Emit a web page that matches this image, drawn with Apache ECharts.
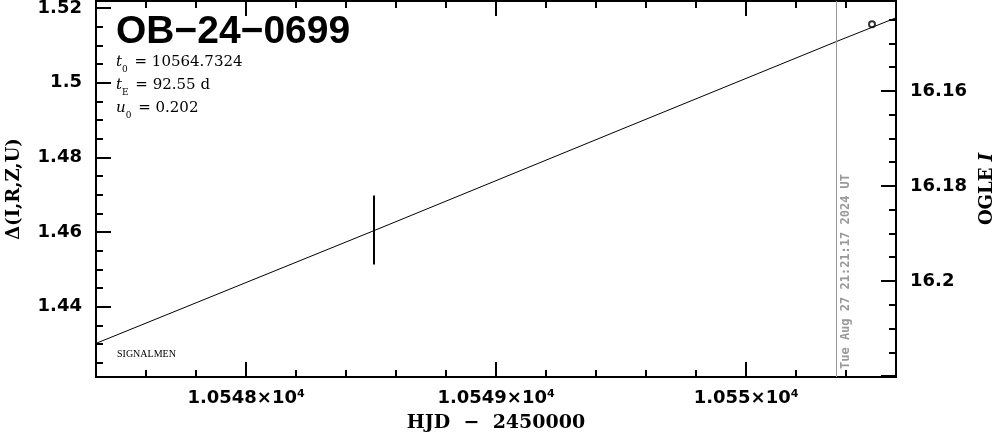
<!DOCTYPE html>
<html><head><meta charset="utf-8">
<script src="https://cdn.jsdelivr.net/npm/echarts@6/dist/echarts.min.js"></script>
<style>html,body{margin:0;padding:0;background:#fff}#c{width:999px;height:434px}</style>
</head><body><div id="c"></div>
<script>
// ---- data ----
const xRange = [10547.4, 10550.6];           // HJD - 2450000
const yRange = [1.4212, 1.5219];             // Δ(I,R,Z,U)
const magRange = [16.1411, 16.2202];          // OGLE I
const modelX = [10547.4, 10548.512, 10549.5, 10550.36, 10550.6];
const modelY = [1.4302, 1.4604, 1.4875, 1.5110, 1.5174];
const errX = [10548.512];
const errLow = [1.4513];
const errHigh = [1.4698];
const ptX = [10550.504];
const ptY = [1.5157];
const nowX = 10550.36;
const nowLabel = 'Tue Aug 27 21:21:17 2024 UT';
const eventName = 'OB\u221224\u22120699';
const params = [['t','0','= 10564.7324'],['t','E','= 92.55 d'],['u','0','= 0.202']];

const chart = echarts.init(document.getElementById('c'));
const lab = {fontFamily:'DejaVu Sans', fontWeight:'bold', fontSize:18, color:'#000'};
const axLine = {show:true, lineStyle:{color:'#000', width:2}};
const onStep = (v, step) => Math.abs(v/step - Math.round(v/step)) < 1e-6;
function xa(pos, split, len, labels){
  return {type:'value', position:pos, min:xRange[0], max:xRange[1], splitNumber:split, gridIndex:0,
    axisLine: axLine, splitLine:{show:false},
    axisTick:{show:true, inside:true, length:len, lineStyle:{color:'#000', width:2}},
    axisLabel: labels ? {show:true, margin:12,
      formatter: v => (onStep(v,1) && v > xRange[0] + 0.05 && v < xRange[1] - 0.05) ? (+(v/1e4).toFixed(4)) + '\u00d710{s|4}' : '',
      fontFamily:lab.fontFamily, fontWeight:'bold', fontSize:18, color:'#000',
      rich:{s:{fontFamily:lab.fontFamily, fontWeight:'bold', fontSize:11, verticalAlign:'top', padding:[0,0,8,0]}}} : {show:false}
  };
}
function ya(pos, range, split, len, labels, inverse, pad){
  return {type:'value', position:pos, min:range[0], max:range[1], splitNumber:split, inverse:!!inverse,
    axisLine: axLine, splitLine:{show:false},
    axisTick:{show:true, inside:true, length:len, lineStyle:{color:'#000', width:2}},
    axisLabel: labels ? Object.assign({show:true, margin:14,
      formatter: v => (onStep(v,0.02) && v > range[0] + pad && v < range[1] - pad) ? String(+v.toFixed(2)) : ''}, lab) : {show:false}
  };
}
const xAxes = [xa('bottom',3,15,true), xa('bottom',16,7,false), xa('top',3,15,false), xa('top',16,7,false)];
xAxes[0].name = 'HJD  \u2212  2450000';
xAxes[0].nameLocation = 'middle';
xAxes[0].nameGap = 37;
xAxes[0].nameTextStyle = {fontFamily:'DejaVu Serif', fontWeight:'bold', fontSize:19, color:'#000'};
const yAxes = [ya('left',yRange,5,15,true,false,0.0005), ya('left',yRange,20,7,false), ya('right',magRange,4,15,true,true,0.001), ya('right',magRange,16,7,false,true)];
yAxes[0].name = '\u0394(I,R,Z,U)';
yAxes[0].nameLocation = 'middle';
yAxes[0].nameGap = 73;
yAxes[0].nameTextStyle = {fontFamily:'DejaVu Serif', fontWeight:'bold', fontSize:18, color:'#000'};
yAxes[2].name = 'OGLE {i|I}';
yAxes[2].nameLocation = 'middle';
yAxes[2].nameRotate = 90;
yAxes[2].nameGap = 81;
yAxes[2].nameTextStyle = {fontFamily:'DejaVu Serif', fontWeight:'bold', fontSize:18, color:'#000',
  rich:{i:{fontFamily:'DejaVu Serif', fontWeight:'bold', fontStyle:'italic', fontSize:18, color:'#000'}}};

const paramRich = {
  it:{fontFamily:'DejaVu Serif', fontStyle:'italic', fontSize:15, color:'#000'},
  sub:{fontFamily:'DejaVu Serif', fontSize:9, color:'#000', verticalAlign:'bottom', padding:[7,2,0,0]},
  n:{fontFamily:'DejaVu Serif', fontSize:15, color:'#000'}
};

chart.setOption({
  animation:false,
  backgroundColor:'#fff',
  grid:{left:96, right:103, top:1, bottom:57, containLabel:false, outerBoundsMode:'none'},
  xAxis:xAxes,
  yAxis:yAxes,
  graphic:[
    {type:'text', left:116, top:13, style:{text:eventName, font:'bold 39px "Liberation Sans"', fill:'#000'}},
    {type:'text', left:116, top:51, style:{text: params.map(p=>'{it|'+p[0]+'}{sub|'+p[1]+'}{n| '+p[2]+'}').join('\n'), rich:paramRich, lineHeight:23}},
    {type:'text', left:117, top:349, style:{text:'SIGNALMEN', font:'10px "Liberation Serif"', fill:'#000'}}
  ],
  series:[
    {type:'line', xAxisIndex:0, yAxisIndex:0, data:modelX.map((x,i)=>[x,modelY[i]]), showSymbol:false, symbol:'none',
     lineStyle:{color:'#000', width:1}, silent:true,
     markLine:{silent:true, symbol:'none', animation:false,
       lineStyle:{color:'#999', width:1, type:'solid'},
       label:{show:true, formatter:nowLabel, position:'insideStartBottom', distance:[8,4],
         fontFamily:'DejaVu Sans Mono', fontWeight:'bold', fontSize:12, color:'#999'},
       data:[{xAxis:nowX}]}},
    {type:'custom', xAxisIndex:0, yAxisIndex:0, data:errX.map((x,i)=>[x,errLow[i],errHigh[i]]),
     renderItem:(params, api)=>{
       const a = api.coord([api.value(0), api.value(1)]);
       const b = api.coord([api.value(0), api.value(2)]);
       return {type:'line', shape:{x1:a[0], y1:a[1], x2:b[0], y2:b[1]}, style:{stroke:'#000', lineWidth:2}};
     }},
    {type:'scatter', xAxisIndex:0, yAxisIndex:0, data:ptX.map((x,i)=>[x,ptY[i]]), symbol:'circle', symbolSize:6,
     itemStyle:{color:'#fff', borderColor:'#000', borderWidth:2}}
  ]
});
</script></body></html>
